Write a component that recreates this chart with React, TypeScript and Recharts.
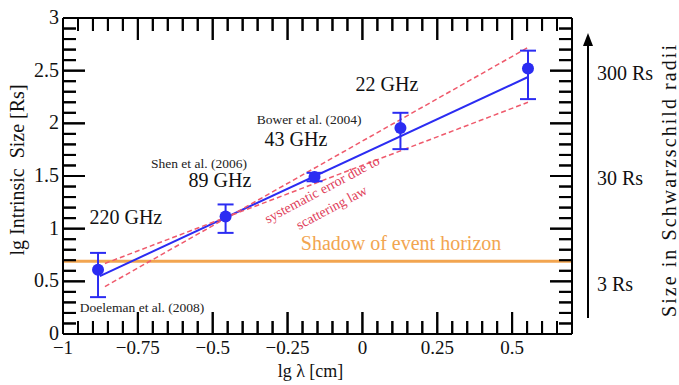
import React from 'react';
import {
  ComposedChart,
  XAxis,
  YAxis,
  Scatter,
  ErrorBar,
  Line,
  ReferenceLine,
  ReferenceDot,
} from 'recharts';

// measured source sizes (lg of size in Rs) vs lg wavelength
const lgWavelength = [-0.883, -0.457, -0.16, 0.127, 0.553];
const lgSize = [0.61, 1.115, 1.49, 1.955, 2.52];
const errLow = [0.26, 0.155, 0.04, 0.2, 0.29];
const errHigh = [0.16, 0.115, 0.04, 0.145, 0.17];

// fitted power law and systematic-error envelope (end points)
const fitX = [-0.877, 0.553];
const fitY = [0.55, 2.44];
const envX = [-0.86, 0.553];
const envFlatY = [0.67, 2.2];
const envSteepY = [0.45, 2.72];

const horizonLevel = 0.69;

const xMajorTicks = [-1, -0.75, -0.5, -0.25, 0, 0.25, 0.5];
const yMajorTicks = [0, 0.5, 1, 1.5, 2, 2.5, 3];
const rsLevels = [3, 30, 300];

const xMinorTicks = [
  -0.95, -0.9, -0.85, -0.8, -0.75, -0.7, -0.65, -0.6, -0.55, -0.5, -0.45, -0.4, -0.35, -0.3, -0.25, -0.2, -0.15,
  -0.1, -0.05, 0, 0.05, 0.1, 0.15, 0.2, 0.25, 0.3, 0.35, 0.4, 0.45, 0.5, 0.55, 0.6, 0.65,
];
const yMinorTicks = [
  0.1, 0.2, 0.3, 0.4, 0.5, 0.6, 0.7, 0.8, 0.9, 1, 1.1, 1.2, 1.3, 1.4, 1.5, 1.6, 1.7, 1.8, 1.9, 2, 2.1, 2.2, 2.3, 2.4,
  2.5, 2.6, 2.7, 2.8, 2.9,
];

const annotations = [
  { text: '220 GHz', x: -0.79, y: 1.11, kind: 'freq' },
  { text: '89 GHz', x: -0.476, y: 1.462, kind: 'freq' },
  { text: '43 GHz', x: -0.222, y: 1.851, kind: 'freq' },
  { text: '22 GHz', x: 0.082, y: 2.373, kind: 'freq' },
  { text: 'Shen et al. (2006)', x: -0.546, y: 1.619, kind: 'ref' },
  { text: 'Bower et al. (2004)', x: -0.178, y: 2.032, kind: 'ref' },
  { text: 'Doeleman et al. (2008)', x: -0.736, y: 0.256, kind: 'ref' },
  { text: 'Shadow of event horizon', x: 0.129, y: 0.864, kind: 'horizon' },
  { text: 'systematic error due to', x: -0.135, y: 1.37, kind: 'syst' },
  { text: 'scattering law', x: -0.103, y: 1.2, kind: 'syst' },
];

const points = lgWavelength.map((x, i) => ({ x, y: lgSize[i], err: [errLow[i], errHigh[i]] }));
const fitLine = fitX.map((x, i) => ({ x, y: fitY[i] }));
const envFlat = envX.map((x, i) => ({ x, y: envFlatY[i] }));
const envSteep = envX.map((x, i) => ({ x, y: envSteepY[i] }));
const rsTicks = rsLevels.map((r) => Math.log10(r));

const X_DOMAIN = [-1, 0.7];
const Y_DOMAIN = [0, 3];

const W = 679;
const H = 385;
const LEFT = 63;
const RIGHT = 107;
const TOP = 18;
const BOTTOM = 51;
const xPerPx = (X_DOMAIN[1] - X_DOMAIN[0]) / (W - LEFT - RIGHT);
const yPerPx = (Y_DOMAIN[1] - Y_DOMAIN[0]) / (H - TOP - BOTTOM);

const SERIF = '"Liberation Serif", "Times New Roman", serif';
const BLUE = '#2b2cf2';
const RED = '#ef5a6c';
const ORANGE = '#f2a550';

const xLen = (v: number) => (xMajorTicks.includes(v) ? 22 : 13);
const yLen = (v: number) => (yMajorTicks.includes(v) ? 22 : 13);
const fmt = (v: number) => {
  const s = String(Math.round(Math.abs(v) * 100) / 100);
  return v < 0 ? '\u2212' + s : s;
};

const renderBottomTick = (p: any) => (
  <text x={p.x} y={p.y + 20} textAnchor="middle" fontSize={19} fontFamily={SERIF} fill="#111">
    {fmt(p.payload.value)}
  </text>
);

const renderLeftTick = (p: any) => (
  <text x={p.x - 4} y={p.y + 6} textAnchor="end" fontSize={20} fontFamily={SERIF} fill="#111">
    {fmt(p.payload.value)}
  </text>
);

const renderRightTick = (p: any) => (
  <text x={p.x + 25} y={p.y + 7} textAnchor="start" fontSize={20} fontFamily={SERIF} fill="#111">
    {rsLevels[p.index]} Rs
  </text>
);

// tick stubs along an axis box edge
const xStubs = (vb: any, edgeY: number, dir: number) =>
  xMinorTicks.map((v) => {
    const px = vb.x + ((v - X_DOMAIN[0]) / (X_DOMAIN[1] - X_DOMAIN[0])) * vb.width;
    return <line key={v} x1={px} x2={px} y1={edgeY} y2={edgeY + dir * xLen(v)} stroke="#000" strokeWidth={2} />;
  });
const yStubs = (vb: any, edgeX: number, dir: number) =>
  yMinorTicks.map((v) => {
    const py = vb.y + vb.height - ((v - Y_DOMAIN[0]) / (Y_DOMAIN[1] - Y_DOMAIN[0])) * vb.height;
    return <line key={v} x1={edgeX} x2={edgeX + dir * yLen(v)} y1={py} y2={py} stroke="#000" strokeWidth={2} />;
  });

const LeftTitle = ({ viewBox }: any) => {
  const cx = viewBox.x + 17;
  const cy = viewBox.y + viewBox.height / 2 - 6;
  return (
    <g>
      {yStubs(viewBox, viewBox.x + viewBox.width, 1)}
      <text x={cx} y={cy} transform={`rotate(-90 ${cx} ${cy})`} textAnchor="middle" dominantBaseline="central"
        fontSize={20} fontFamily={SERIF} fill="#111" style={{ whiteSpace: 'pre' }}>
        lg Intrinsic  Size [Rs]
      </text>
    </g>
  );
};

const RightTitle = ({ viewBox }: any) => {
  const ax = viewBox.x + 16;
  const top = viewBox.y + 15;
  const bottom = viewBox.y + viewBox.height - 16;
  const cx = viewBox.x + 97;
  const cy = viewBox.y + viewBox.height / 2 + 5;
  return (
    <g>
      {yStubs(viewBox, viewBox.x, -1)}
      <line x1={ax} x2={ax} y1={bottom} y2={top + 10} stroke="#000" strokeWidth={2} />
      <polygon points={`${ax},${top} ${ax - 5},${top + 13} ${ax + 5},${top + 13}`} fill="#000" />
      <text x={cx} y={cy} transform={`rotate(-90 ${cx} ${cy})`} textAnchor="middle" dominantBaseline="central"
        fontSize={20} fontFamily={SERIF} fill="#111" textLength={272} lengthAdjust="spacing">
        Size in Schwarzschild radii
      </text>
    </g>
  );
};

const BottomTitle = ({ viewBox }: any) => (
  <g>
    {xStubs(viewBox, viewBox.y, -1)}
    <text x={viewBox.x + viewBox.width / 2 - 7} y={viewBox.y + 43} textAnchor="middle" fontSize={18}
      fontFamily={SERIF} fill="#111">
      lg λ [cm]
    </text>
  </g>
);

const TopStubs = ({ viewBox }: any) => <g>{xStubs(viewBox, viewBox.y + viewBox.height, 1)}</g>;

const annStyle: Record<string, any> = {
  freq: { fontSize: 20, fill: '#111', rotate: 0 },
  ref: { fontSize: 13.5, fill: '#222', rotate: 0 },
  horizon: { fontSize: 20, fill: ORANGE, rotate: 0 },
  syst: { fontSize: 14, fill: '#e0405a', rotate: -28 },
};

const makeLabel = (text: string, kind: string) => ({ viewBox }: any) => {
  const s = annStyle[kind];
  const { x, y } = viewBox;
  return (
    <text x={x} y={y} textAnchor="middle" dominantBaseline="central" fontSize={s.fontSize} fill={s.fill}
      fontFamily={SERIF} transform={s.rotate ? `rotate(${s.rotate} ${x} ${y})` : undefined}>
      {text}
    </text>
  );
};

const PointMark = ({ cx, cy }: any) => <circle cx={cx} cy={cy} r={6} fill={BLUE} />;

const axisLine = { stroke: '#000', strokeWidth: 2 };

export default function App() {
  return (
    <div style={{ position: 'absolute', left: 0, top: 0, background: '#fff' }}>
      <ComposedChart width={W} height={H} margin={{ top: 0, right: 0, bottom: 0, left: 0 }}>
        <XAxis
          dataKey="x"
          type="number"
          domain={X_DOMAIN}
          allowDataOverflow
          ticks={xMajorTicks}
          interval={0}
          height={BOTTOM}
          tickSize={0}
          tickMargin={0}
          tickLine={false}
          axisLine={axisLine}
          tick={renderBottomTick}
          label={{ content: <BottomTitle /> }}
        />
        <XAxis
          xAxisId="top"
          orientation="top"
          dataKey="x"
          type="number"
          domain={X_DOMAIN}
          allowDataOverflow
          height={TOP}
          tick={false}
          tickLine={false}
          axisLine={axisLine}
          label={{ content: <TopStubs /> }}
        />
        <YAxis
          dataKey="y"
          type="number"
          domain={Y_DOMAIN}
          allowDataOverflow
          ticks={yMajorTicks}
          interval={0}
          width={LEFT}
          tickSize={0}
          tickMargin={0}
          tickLine={false}
          axisLine={axisLine}
          tick={renderLeftTick}
          label={{ content: <LeftTitle /> }}
        />
        <YAxis
          yAxisId="right"
          orientation="right"
          dataKey="y"
          type="number"
          domain={Y_DOMAIN}
          allowDataOverflow
          ticks={rsTicks}
          interval={0}
          width={RIGHT}
          tickSize={0}
          tickMargin={0}
          tickLine={false}
          axisLine={axisLine}
          tick={renderRightTick}
          label={{ content: <RightTitle /> }}
        />
        {xMinorTicks.map((v) => (
          <ReferenceLine key={`xb${v}`} ifOverflow="visible" stroke="#000" strokeWidth={2}
            segment={[{ x: v, y: Y_DOMAIN[0] }, { x: v, y: Y_DOMAIN[0] + xLen(v) * yPerPx }]} />
        ))}
        {xMinorTicks.map((v) => (
          <ReferenceLine key={`xt${v}`} ifOverflow="visible" stroke="#000" strokeWidth={2}
            segment={[{ x: v, y: Y_DOMAIN[1] }, { x: v, y: Y_DOMAIN[1] - xLen(v) * yPerPx }]} />
        ))}
        {yMinorTicks.map((v) => (
          <ReferenceLine key={`yl${v}`} ifOverflow="visible" stroke="#000" strokeWidth={2}
            segment={[{ x: X_DOMAIN[0], y: v }, { x: X_DOMAIN[0] + yLen(v) * xPerPx, y: v }]} />
        ))}
        {yMinorTicks.map((v) => (
          <ReferenceLine key={`yr${v}`} ifOverflow="visible" stroke="#000" strokeWidth={2}
            segment={[{ x: X_DOMAIN[1], y: v }, { x: X_DOMAIN[1] - yLen(v) * xPerPx, y: v }]} />
        ))}
        <ReferenceLine y={horizonLevel} stroke={ORANGE} strokeWidth={3} />
        <Line data={fitLine} dataKey="y" type="linear" stroke={BLUE} strokeWidth={2} dot={false}
          activeDot={false} isAnimationActive={false} />
        <Line data={envFlat} dataKey="y" type="linear" stroke={RED} strokeWidth={1.5} strokeDasharray="5 3"
          dot={false} activeDot={false} isAnimationActive={false} />
        <Line data={envSteep} dataKey="y" type="linear" stroke={RED} strokeWidth={1.5} strokeDasharray="5 3"
          dot={false} activeDot={false} isAnimationActive={false} />
        <Scatter data={points} dataKey="y" shape={<PointMark />} isAnimationActive={false}>
          <ErrorBar dataKey="err" direction="y" width={8} stroke={BLUE} strokeWidth={2} isAnimationActive={false} />
        </Scatter>
        {annotations.map((a) => (
          <ReferenceDot key={a.text} x={a.x} y={a.y} r={0} fill="none" stroke="none"
            label={{ content: makeLabel(a.text, a.kind) }} />
        ))}
      </ComposedChart>
    </div>
  );
}
